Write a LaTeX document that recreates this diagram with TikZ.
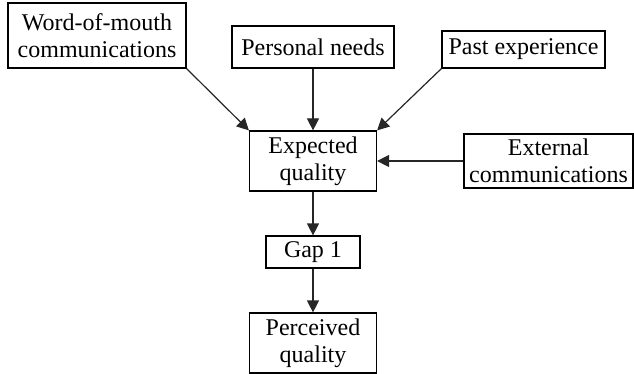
\documentclass[tikz,border=0pt]{standalone}
\usepackage{fontspec}
\setmainfont{Liberation Serif}
\usetikzlibrary{arrows.meta}
\begin{document}
\begin{tikzpicture}[x=1pt,y=-1pt,
  box/.style={draw=black,line width=1.2pt,inner sep=0pt,align=center,
    font=\fontsize{24}{27}\selectfont},
  flow/.style={draw=black!85,line width=1.2pt,
    -{Triangle[length=12pt,width=12pt]}}]
  \useasboundingbox (0,0) rectangle (634,374);
  % input factors
  \node[box,minimum width=178pt,minimum height=65pt] (wom) at (97,35.5)
    {Word-of-mouth\\communications};
  \node[box,minimum width=162pt,minimum height=42pt] (pn) at (313,47)
    {Personal needs};
  \node[box,minimum width=163pt,minimum height=37pt] (pe) at (523.5,49.5)
    {Past experience};
  \node[box,minimum width=169pt,minimum height=54pt] (ec) at (548.5,161)
    {External\\communications};
  % expected quality, the gap and perceived quality
  \node[box,minimum width=127pt,minimum height=60pt] (eq) at (313,161)
    {Expected\\quality};
  \node[box,minimum width=94pt,minimum height=32pt] (gap) at (313,252)
    {Gap 1};
  \node[box,minimum width=127pt,minimum height=60pt] (pq) at (313,343)
    {Perceived\\quality};
  % connectors
  \draw[flow] (wom.south east) -- (eq.north west);
  \draw[flow] (pn.south) -- (eq.north);
  \draw[flow] (pe.south west) -- (eq.north east);
  \draw[flow] (ec.west) -- (eq.east);
  \draw[flow] (eq.south) -- (gap.north);
  \draw[flow] (gap.south) -- (pq.north);
\end{tikzpicture}
\end{document}
